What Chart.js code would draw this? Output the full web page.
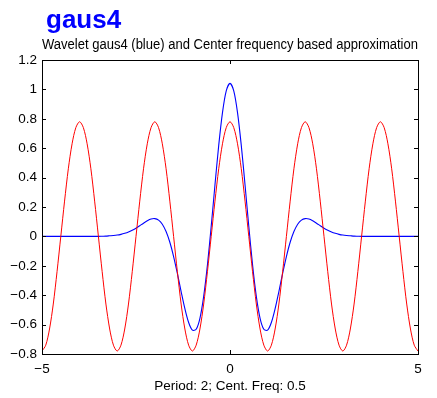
<!DOCTYPE html>
<html><head><meta charset="utf-8">
<script src="https://cdn.jsdelivr.net/npm/chart.js@4"></script>
<style>html,body{margin:0;padding:0;background:#fff}canvas{display:block}</style>
</head><body>
<canvas id="c" width="437" height="398"></canvas>
<script>
const titleText = 'gaus4';
const subtitleText = 'Wavelet gaus4 (blue) and Center frequency based approximation';
const xAxisLabel = 'Period: 2; Cent. Freq: 0.5';
const xTickValues = [-5, 0, 5];
const yTickValues = [-0.8, -0.6, -0.4, -0.2, 0, 0.2, 0.4, 0.6, 0.8, 1, 1.2];

const xValues = [
 -5.0,-4.9,-4.8,-4.7,-4.6,-4.5,-4.4,-4.3,-4.2,-4.1,
 -4.0,-3.9,-3.8,-3.7,-3.6,-3.5,-3.4,-3.3,-3.2,-3.1,
 -3.0,-2.9,-2.8,-2.7,-2.6,-2.5,-2.4,-2.3,-2.2,-2.1,
 -2.0,-1.9,-1.8,-1.7,-1.6,-1.5,-1.4,-1.3,-1.2,-1.1,
 -1.0,-0.9,-0.8,-0.7,-0.6,-0.5,-0.4,-0.3,-0.2,-0.1,
 0.0,0.1,0.2,0.3,0.4,0.5,0.6,0.7,0.8,0.9,
 1.0,1.1,1.2,1.3,1.4,1.5,1.6,1.7,1.8,1.9,
 2.0,2.1,2.2,2.3,2.4,2.5,2.6,2.7,2.8,2.9,
 3.0,3.1,3.2,3.3,3.4,3.5,3.6,3.7,3.8,3.9,
 4.0,4.1,4.2,4.3,4.4,4.5,4.6,4.7,4.8,4.9,
 5.0
];

// red: center-frequency based approximation
const approxValues = [
 -0.78,-0.74,-0.63,-0.46,-0.24,0,0.24,0.46,0.63,0.74,
 0.78,0.74,0.63,0.46,0.24,0,-0.24,-0.46,-0.63,-0.74,
 -0.78,-0.74,-0.63,-0.46,-0.24,0,0.24,0.46,0.63,0.74,
 0.78,0.74,0.63,0.46,0.24,0,-0.24,-0.46,-0.63,-0.74,
 -0.78,-0.74,-0.63,-0.46,-0.24,0,0.24,0.46,0.63,0.74,
 0.78,0.74,0.63,0.46,0.24,0,-0.24,-0.46,-0.63,-0.74,
 -0.78,-0.74,-0.63,-0.46,-0.24,0,0.24,0.46,0.63,0.74,
 0.78,0.74,0.63,0.46,0.24,0,-0.24,-0.46,-0.63,-0.74,
 -0.78,-0.74,-0.63,-0.46,-0.24,0,0.24,0.46,0.63,0.74,
 0.78,0.74,0.63,0.46,0.24,0,-0.24,-0.46,-0.63,-0.74,
 -0.78
];

// blue: wavelet gaus4
const waveletValues = [
 0,0,0,0,0,0,0,0,0,0,
 0,0,0,0,0,0,0.001,0.002,0.004,0.006,
 0.009,0.014,0.021,0.030,0.042,0.056,0.073,0.090,0.106,0.118,
 0.121,0.111,0.083,0.033,-0.040,-0.137,-0.252,-0.375,-0.492,-0.586,
 -0.638,-0.632,-0.557,-0.408,-0.194,0.068,0.350,0.619,0.842,0.990,
 1.041,0.990,0.842,0.619,0.350,0.068,-0.194,-0.408,-0.557,-0.632,
 -0.638,-0.586,-0.492,-0.375,-0.252,-0.137,-0.040,0.033,0.083,0.111,
 0.121,0.118,0.106,0.090,0.073,0.056,0.042,0.030,0.021,0.014,
 0.009,0.006,0.004,0.002,0.001,0,0,0,0,0,
 0,0,0,0,0,0,0,0,0,0,
 0
];

const fontFamily = '"Liberation Sans", Arial, Helvetica, sans-serif';
const fmt = v => String(Math.round(v * 10) / 10).replace('-', '\u2212');

const boxAndTicks = {
  id: 'boxAndTicks',
  afterLayout(chart) {
    if (chart.titleBlock) { chart.titleBlock.left += 4; chart.titleBlock.right += 4; }
  },
  afterDatasetsDraw(chart) {
    const { ctx, chartArea: a, scales: { x, y } } = chart;
    const L = 4;
    ctx.save();
    ctx.strokeStyle = '#000';
    ctx.lineWidth = 1;
    ctx.beginPath();
    x.ticks.forEach(t => {
      const px = Math.round(x.getPixelForValue(t.value)) + 0.5;
      ctx.moveTo(px, a.bottom); ctx.lineTo(px, a.bottom - L);
      ctx.moveTo(px, a.top); ctx.lineTo(px, a.top + L);
    });
    y.ticks.forEach(t => {
      const py = Math.round(y.getPixelForValue(t.value)) + 0.5;
      ctx.moveTo(a.left, py); ctx.lineTo(a.left + L, py);
      ctx.moveTo(a.right, py); ctx.lineTo(a.right - L, py);
    });
    ctx.stroke();
    ctx.strokeRect(Math.round(a.left) + 0.5, Math.round(a.top) + 0.5,
      Math.round(a.right - a.left), Math.round(a.bottom - a.top));
    ctx.restore();
  }
};

new Chart(document.getElementById('c'), {
  type: 'line',
  data: {
    datasets: [
      {
        label: 'Approximation',
        data: xValues.map((v, i) => ({ x: v, y: approxValues[i] })),
        borderColor: '#ff0000', borderWidth: 1, pointRadius: 0, tension: 0.3, fill: false
      },
      {
        label: 'gaus4',
        data: xValues.map((v, i) => ({ x: v, y: waveletValues[i] })),
        borderColor: '#0000ff', borderWidth: 1.1, pointRadius: 0, tension: 0.3, fill: false
      }
    ]
  },
  options: {
    responsive: false,
    animation: false,
    devicePixelRatio: 1,
    layout: { padding: { top: 0, right: 19, left: 0, bottom: 0 } },
    plugins: {
      legend: { display: false },
      tooltip: { enabled: false },
      title: {
        display: true, text: titleText, align: 'start', fullSize: false,
        color: '#0000ff',
        font: { family: fontFamily, size: 26, weight: 'bold' },
        padding: { top: 5, bottom: 0 }
      },
      subtitle: {
        display: true, text: subtitleText, fullSize: false,
        color: '#000',
        font: { family: fontFamily, size: 14, weight: 'normal' },
        padding: { top: 1, bottom: 6 }
      }
    },
    scales: {
      x: {
        type: 'linear', min: -5, max: 5,
        afterBuildTicks: s => { s.ticks = xTickValues.map(v => ({ value: v })); },
        afterFit: s => { s.height = 44; },
        grid: { display: false, drawTicks: false },
        border: { display: false },
        ticks: { color: '#000', padding: 7, maxRotation: 0, font: { family: fontFamily, size: 13.5 }, callback: v => fmt(v) },
        title: { display: true, text: xAxisLabel, color: '#000', font: { family: fontFamily, size: 13.5 }, padding: { top: 0, bottom: 4 } }
      },
      y: {
        type: 'linear', min: -0.8, max: 1.2,
        afterBuildTicks: s => { s.ticks = yTickValues.map(v => ({ value: v })); },
        afterFit: s => { s.width = 42; },
        grid: { display: false, drawTicks: false },
        border: { display: false },
        ticks: { color: '#000', padding: 5, font: { family: fontFamily, size: 13.5 }, callback: v => fmt(v) }
      }
    }
  },
  plugins: [boxAndTicks]
});
</script>
</body></html>
